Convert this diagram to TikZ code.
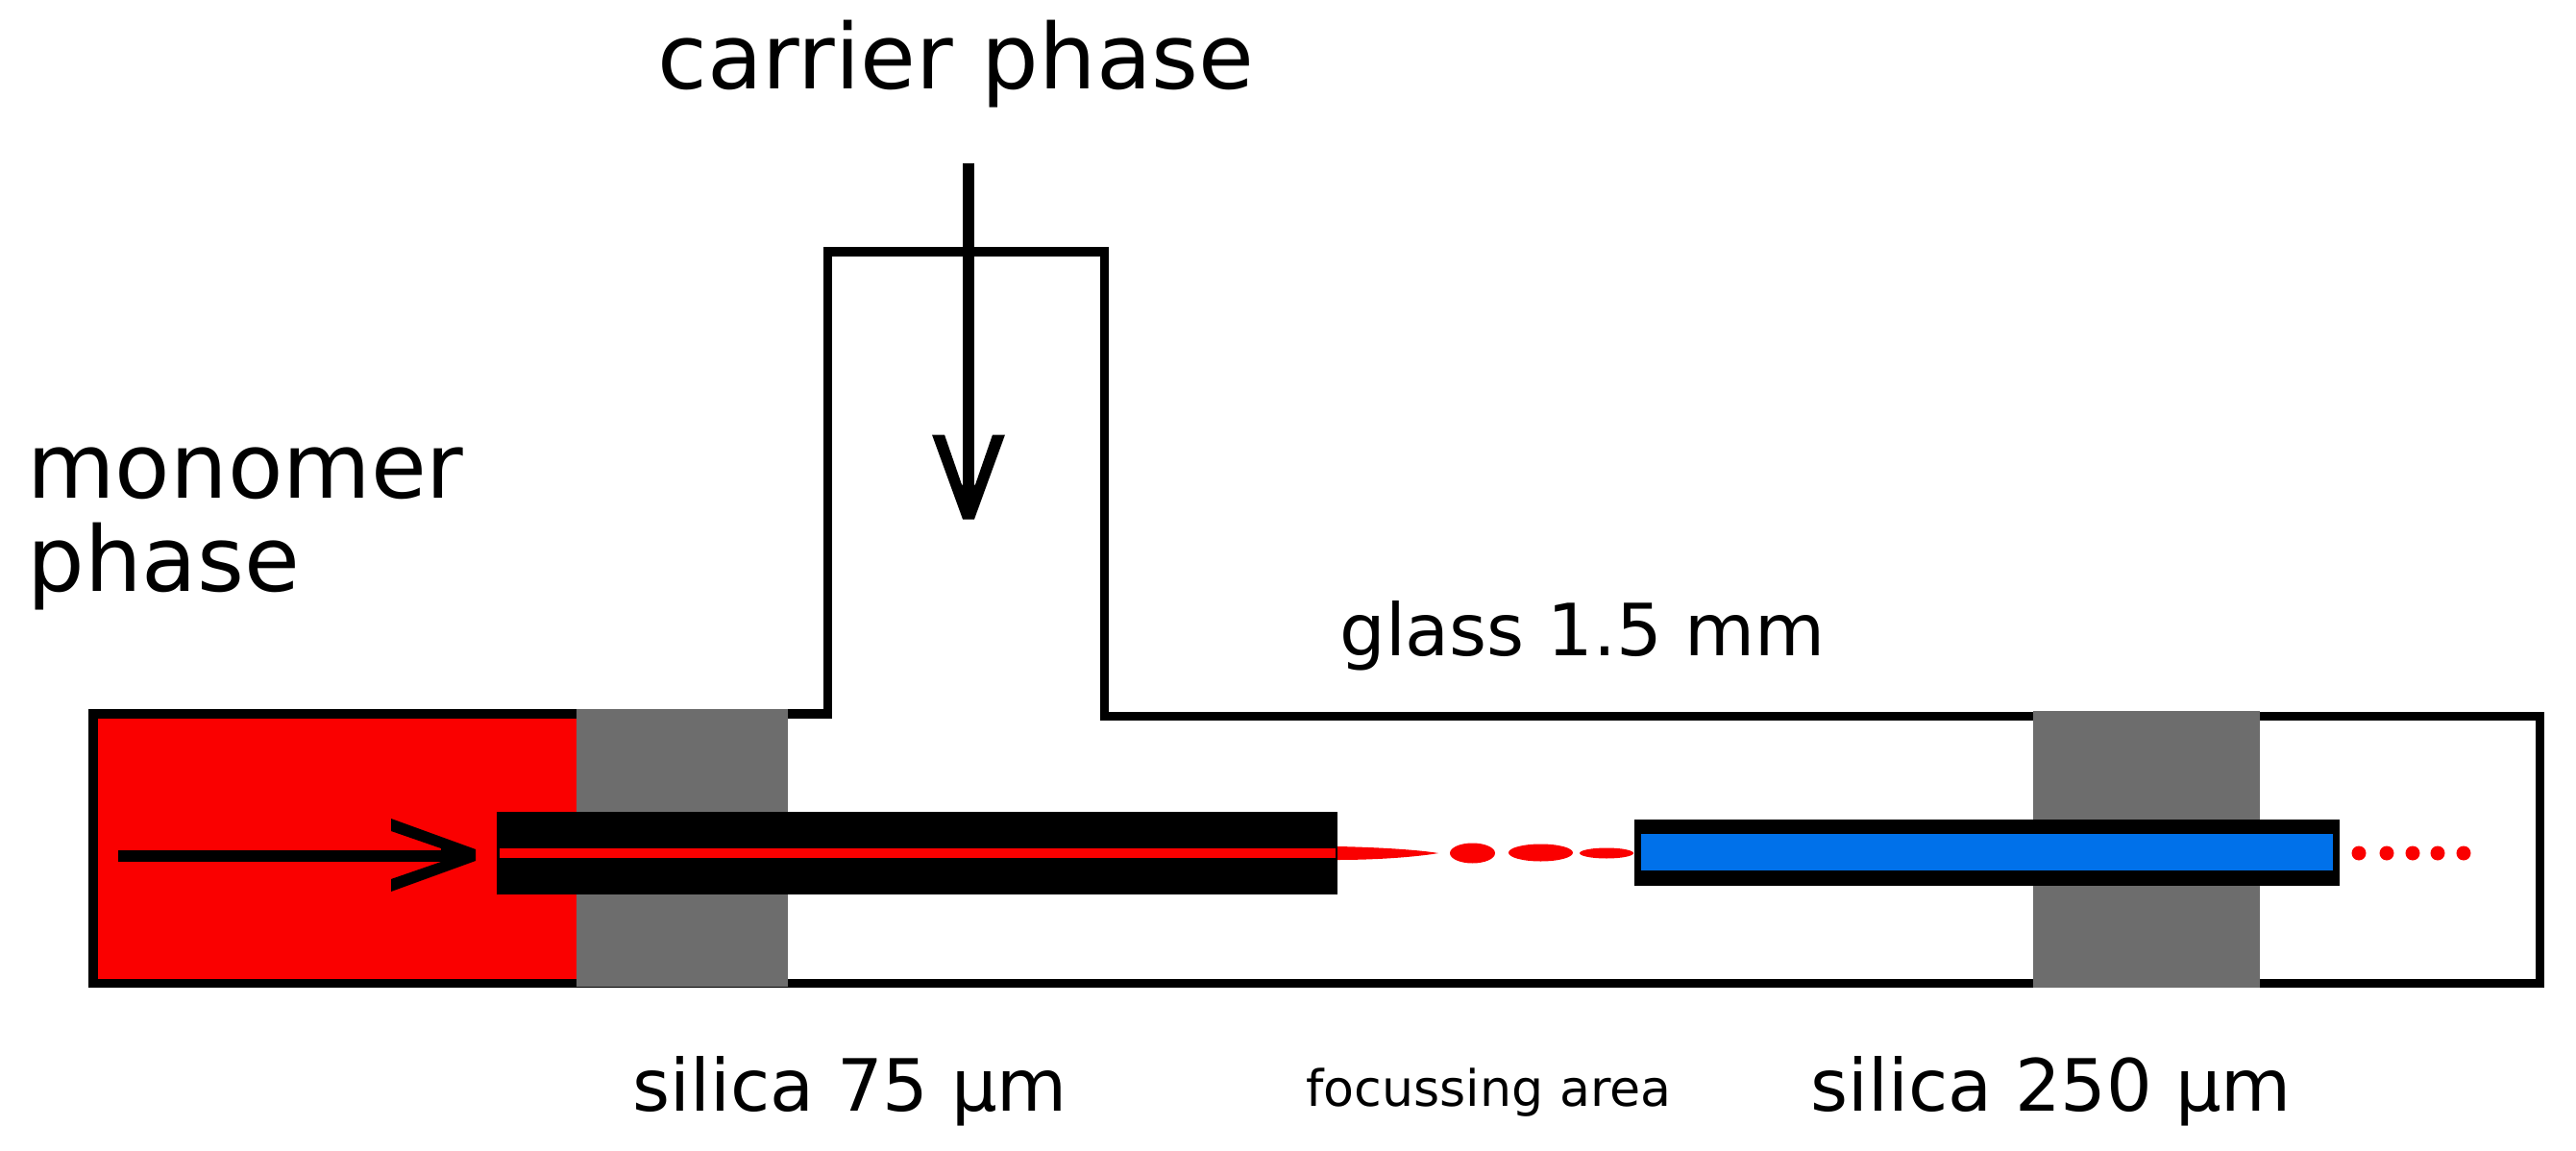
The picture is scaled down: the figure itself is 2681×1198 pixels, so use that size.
\documentclass[tikz,border=0pt]{standalone}
\usepackage{fontspec}
\setmainfont{DejaVu Sans}
\usetikzlibrary{positioning}
\definecolor{monomer}{HTML}{FA0000}
\definecolor{silica}{HTML}{6D6D6D}
\definecolor{capillary}{HTML}{0071EA}
\tikzset{
	wall/.style={draw=black, line width=4.8pt, line join=miter},
	flow/.style={draw=black, line width=6pt},
	label/.style={anchor=base west, inner sep=0pt, font=\fontsize{47}{56}\selectfont},
	smalllabel/.style={anchor=base west, inner sep=0pt, font=\fontsize{26.1}{31}\selectfont},
	midlabel/.style={anchor=base west, inner sep=0pt, font=\fontsize{37.5}{45}\selectfont},
	barbhead/.pic={\fill (-88,-38) -- (0,-6) -- (0,6) -- (-88,38) -- (-88,25) -- (-36,7) -- (-36,-7) -- (-88,-25) -- cycle;}
}
\begin{document}
\begin{tikzpicture}[x=0.5pt, y=-0.5pt]
\useasboundingbox (0,0) rectangle (2681,1198);
% monomer reservoir
\fill[monomer] (97,743) rectangle (600,1023);
% glass
\draw[wall] (97,743) -- (861.5,743) -- (861.5,262) -- (1149.5,262) -- (1149.5,745.5)
	-- (2643.5,745.5) -- (2643.5,1023.5) -- (97,1023.5) -- cycle;
% seals
\fill[silica] (600,738) rectangle (820,1027);
\fill[silica] (2116,740) rectangle (2352,1028);
% inlet capillary
\fill[black] (517,845) rectangle (1392,931);
\fill[monomer] (520,883) rectangle (1390,893);
% outlet capillary
\fill[black] (1701,853) rectangle (2435,922);
\fill[capillary] (1708,868) rectangle (2428,906);
% droplets
\fill[monomer] (1392,881) .. controls (1440,882) and (1480,885) .. (1497,888)
	.. controls (1480,891) and (1440,895) .. (1392,895) -- cycle;
\fill[monomer] (1532.5,888) ellipse [x radius=23.5, y radius=10.5];
\fill[monomer] (1603.5,887.5) ellipse [x radius=33.5, y radius=9];
\fill[monomer] (1672,888) ellipse [x radius=28, y radius=5.5];
\foreach \x in {2455,2484,2511,2537,2564}
	\fill[monomer] (\x,888) ellipse [x radius=7.5, y radius=7.5];
% flow arrows
\coordinate (carrierin) at (1007.5,170);
\coordinate (carrierout) at (1007.5,525);
\coordinate (monomerin) at (123,891);
\coordinate (monomerout) at (480,891);
\draw[flow] (carrierin) -- (carrierout);
\draw[flow] (monomerin) -- (monomerout);
\pic[rotate=-90] at (1008,540.5) {barbhead};
\pic at (495,890) {barbhead};
% labels
\node[label] (carrier) at (684,93) {carrier phase};
\node[label] (monomertop) at (28,518) {monomer};
\node[label] (monomerbot) at (28,615) {phase};
\node[midlabel] (glass) at (1394,682) {glass 1.5 mm};
\node[midlabel] (silicain) at (658,1156) {silica 75 µm};
\node[smalllabel] (focus) at (1359,1151) {focussing area};
\node[midlabel] (silicaout) at (1884,1156) {silica 250 µm};
\end{tikzpicture}
\end{document}
